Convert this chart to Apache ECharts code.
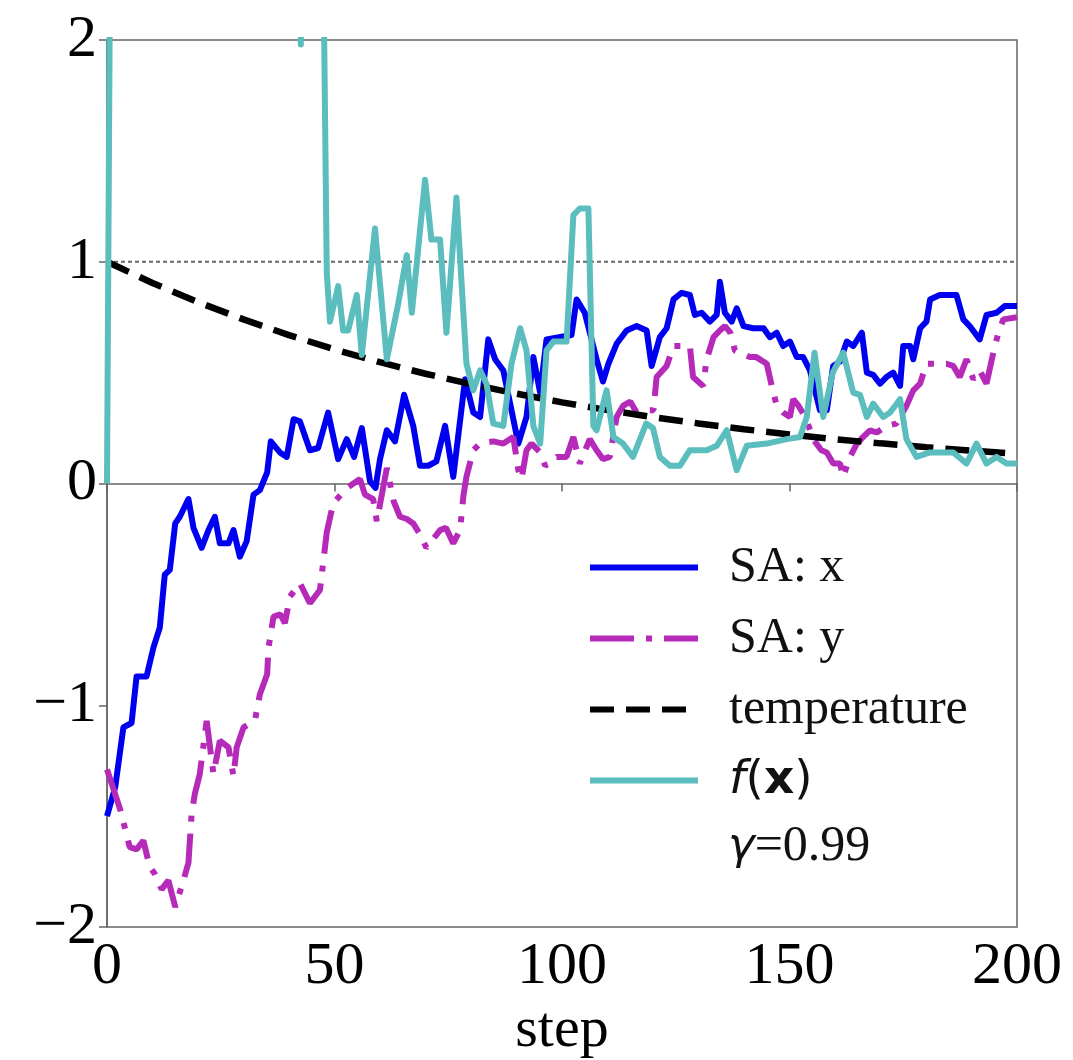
<!DOCTYPE html>
<html>
<head>
<meta charset="utf-8">
<script src="https://cdn.jsdelivr.net/npm/echarts@6/dist/echarts.min.js"></script>
<style>
html,body{margin:0;padding:0;background:#fff;}
#chart{width:1073px;height:1060px;}
</style>
</head>
<body>
<div id="chart"></div>
<script>
// ---- data: [step, value] ----
var seriesNames = ['SA: x', 'SA: y', 'temperature', 'f(x)'];
var xTicks = [0, 50, 100, 150, 200];
var yTicks = [-2, -1, 0, 1, 2];
var refLevel = [[0, 1], [200, 1]];

var saX = [[0,-1.50],[1.8,-1.37],[3.6,-1.10],[5.4,-1.08],[6.5,-0.87],[8.7,-0.87],[10.2,-0.74],[11.6,-0.65],
[12.7,-0.41],[13.8,-0.39],[15,-0.18],[16,-0.15],[17.9,-0.07],[19,-0.20],[20.8,-0.29],[22.3,-0.21],[23.7,-0.15],
[24.8,-0.27],[26.7,-0.27],[27.8,-0.21],[29.2,-0.33],[30.7,-0.26],[32.2,-0.05],[33.6,-0.03],[35.2,0.05],[36,0.19],
[38,0.14],[39.5,0.12],[41,0.29],[42.4,0.28],[44.6,0.15],[46.4,0.16],[48.6,0.32],[50.8,0.11],[52.7,0.20],[54.3,0.12],
[56,0.25],[57.8,0.01],[59,-0.02],[60,0.11],[61.5,0.24],[63.3,0.19],[65.3,0.40],[67.3,0.26],[68.8,0.08],[70.6,0.08],
[72.4,0.10],[74.3,0.26],[76.1,0.03],[78.7,0.47],[80.5,0.32],[82,0.30],[83.8,0.65],[85.3,0.56],[87.1,0.51],[88.6,0.36],
[90.4,0.18],[92.2,0.30],[93.7,0.57],[95.2,0.41],[96.6,0.65],[102.1,0.67],[103.2,0.83],[105,0.77],[107.6,0.56],[109,0.46],
[110.2,0.54],[112,0.63],[114.2,0.69],[116.4,0.71],[118.6,0.69],[119.7,0.53],[121.5,0.66],[123,0.70],[124.5,0.83],
[126.3,0.86],[128.1,0.85],[129.2,0.76],[130.7,0.77],[132.5,0.73],[134,0.76],[134.7,0.91],[135.8,0.77],[137.3,0.73],
[138.4,0.79],[139.9,0.71],[142,0.70],[144.3,0.70],[145.7,0.66],[147.2,0.68],[148.6,0.62],[150.1,0.64],[151.6,0.57],
[153,0.57],[154.5,0.51],[156.7,0.33],[158.2,0.33],[159.6,0.53],[161.1,0.55],[162.6,0.64],[164,0.62],[165.9,0.68],
[167,0.50],[168.4,0.49],[169.9,0.45],[171.3,0.48],[172.8,0.50],[174.3,0.44],[175,0.62],[176.5,0.62],[177.2,0.56],
[178.7,0.70],[180.1,0.73],[180.9,0.83],[183,0.85],[186.7,0.85],[188.2,0.74],[189.6,0.71],[191.8,0.65],[193.3,0.76],
[195.5,0.77],[197.3,0.80],[200,0.80]];

var saY = [[0,-1.29],[2.9,-1.47],[5,-1.64],[6.5,-1.65],[8,-1.61],[9.4,-1.73],[10.5,-1.76],[12,-1.83],[13.5,-1.79],
[15,-1.91],[16.8,-1.79],[17.9,-1.71],[18.6,-1.49],[19.3,-1.40],[20.4,-1.31],[21.9,-1.07],[23.4,-1.31],[24.8,-1.16],
[26.7,-1.19],[27.8,-1.32],[28.5,-1.19],[30,-1.10],[32.5,-1.07],[33.6,-0.95],[35.2,-0.86],[35.5,-0.74],[36.6,-0.60],
[38.1,-0.59],[39.1,-0.63],[40.2,-0.51],[42.4,-0.45],[44.6,-0.54],[46.8,-0.48],[48.3,-0.22],[49.7,-0.09],[52.7,-0.02],
[55.6,0.02],[56.7,-0.05],[58.5,-0.07],[59.3,-0.17],[61.5,0.07],[63,-0.08],[64.4,-0.15],[65.9,-0.16],[67.3,-0.18],
[68.8,-0.23],[70.2,-0.29],[73.2,-0.21],[74.5,-0.20],[76.1,-0.27],[77.6,-0.21],[78.3,-0.06],[79,0.03],[80.5,0.15],
[82,0.18],[84.9,0.19],[87.1,0.18],[89.3,0.21],[90.4,0.06],[91.1,0.02],[92.2,0.15],[93.3,0.18],[95.2,0.14],[96.3,0.08],
[98.8,0.12],[101,0.12],[102.5,0.21],[103.9,0.09],[106.1,0.20],[107.6,0.15],[109,0.11],[110.5,0.12],[112,0.30],
[113.4,0.35],[115,0.37],[116.4,0.32],[118.6,0.33],[120.1,0.33],[120.8,0.48],[123,0.53],[124.5,0.62],[128.1,0.62],
[128.8,0.48],[131,0.44],[131.8,0.56],[133.3,0.66],[134.7,0.69],[135.8,0.71],[137,0.68],[138,0.60],[139.1,0.59],
[141.3,0.57],[142.7,0.57],[145,0.54],[146.1,0.44],[147.2,0.35],[148.6,0.32],[150.1,0.30],[150.8,0.38],[152,0.35],
[153.7,0.29],[155.2,0.20],[157,0.15],[158.2,0.14],[159.6,0.09],[161.1,0.09],[161.8,0.03],[163.3,0.12],[164.8,0.18],
[166.2,0.21],[167.7,0.24],[169.2,0.23],[171.3,0.26],[173.5,0.27],[175.7,0.35],[177.2,0.42],[178.7,0.45],[180.1,0.54],
[181.6,0.54],[184.5,0.54],[186,0.53],[187.4,0.48],[188.9,0.56],[190.4,0.47],[191.8,0.51],[193.3,0.45],[194.8,0.59],
[195.9,0.68],[197,0.74],[200,0.75]];

var temperature = [[0,1.000],[10,0.904],[20,0.818],[30,0.740],[40,0.669],[50,0.605],[60,0.547],[70,0.495],[80,0.448],
[90,0.405],[100,0.366],[110,0.331],[120,0.299],[130,0.271],[140,0.245],[150,0.221],[160,0.200],[170,0.181],
[180,0.164],[190,0.148],[200,0.134]];

var fx = [[0,0.0],[1,3.5],[42,3.5],[42.6,1.98],[43.2,3.5],[47.2,3.0],[48.3,0.95],[49,0.73],[50.8,0.89],[51.9,0.69],
[53,0.69],[54.9,0.85],[56,0.58],[58.9,1.15],[61.5,0.56],[64,0.81],[65.9,1.03],[67,0.77],[69.9,1.37],[71.3,1.10],
[73.2,1.10],[74.6,0.68],[76.8,1.29],[79,0.54],[80.5,0.42],[82,0.51],[83.4,0.45],[84.9,0.27],[87.1,0.26],[88.9,0.54],
[90.8,0.70],[92.2,0.60],[93.7,0.26],[95.2,0.18],[96.6,0.60],[98.1,0.64],[101,0.64],[102.5,1.21],[103.9,1.24],
[105.8,1.24],[106.9,0.26],[107.6,0.24],[109.8,0.42],[111.3,0.21],[113.4,0.18],[115.6,0.12],[118.5,0.27],[120,0.25],
[121.5,0.12],[123.7,0.08],[125.9,0.08],[128.1,0.15],[131.8,0.15],[134,0.17],[136.2,0.24],[138.4,0.06],[140.6,0.17],
[145,0.18],[149.4,0.20],[152.3,0.21],[153.8,0.30],[155.5,0.59],[157.4,0.30],[159.5,0.50],[161.8,0.59],[164,0.41],
[165.5,0.40],[167,0.30],[168.4,0.36],[170.6,0.30],[172.1,0.32],[174.3,0.38],[175.7,0.20],[177.9,0.12],[180.9,0.14],
[186,0.14],[188.9,0.09],[191.1,0.18],[193.3,0.09],[195.5,0.12],[197.7,0.09],[200,0.09]];

var gammaLabel = ['γ', '=0.99'];

// ---- chart ----
var serif = '"Liberation Serif","DejaVu Serif",serif';
var chart = echarts.init(document.getElementById('chart'), null, {renderer: 'canvas'});
function minusFmt(v) { return v < 0 ? '\u2212' + Math.abs(v) : String(v); }

var option = {
  backgroundColor: '#ffffff',
  animation: false,
  grid: {left: 107, right: 56, top: 40, bottom: 133, show: true, borderColor: '#666', borderWidth: 1.5,
         containLabel: false, outerBoundsMode: 'none'},
  xAxis: {
    type: 'value', min: xTicks[0], max: xTicks[xTicks.length - 1], interval: 50,
    name: 'step', nameLocation: 'middle', nameGap: 70,
    nameTextStyle: {fontFamily: serif, fontSize: 58, color: '#000', lineHeight: 58},
    axisLine: {show: true, lineStyle: {color: '#666', width: 1.5}},
    axisTick: {show: true, inside: false, length: 8, lineStyle: {color: '#666', width: 1.5}},
    axisLabel: {fontFamily: serif, fontSize: 60, color: '#000', margin: 10, formatter: minusFmt},
    splitLine: {show: false}
  },
  yAxis: {
    type: 'value', min: yTicks[0], max: yTicks[yTicks.length - 1], interval: 1,
    axisLine: {show: true, lineStyle: {color: '#666', width: 1.5}},
    axisTick: {show: true, inside: false, length: 8, lineStyle: {color: '#666', width: 1.5}},
    axisLabel: {fontFamily: serif, fontSize: 60, color: '#000', margin: 10, formatter: minusFmt},
    splitLine: {show: false}
  },
  legend: {
    data: seriesNames,
    orient: 'vertical',
    left: 582, top: 534,
    itemWidth: 108, itemHeight: 14, itemGap: 14,
    itemStyle: {opacity: 0},
    lineStyle: {width: 6},
    textStyle: {fontFamily: serif, fontSize: 50, color: '#111', padding: [0, 0, 0, 26], lineHeight: 57,
      rich: {
        f: {fontFamily: '"DejaVu Sans"', fontStyle: 'italic', fontSize: 47, color: '#111'},
        p: {fontFamily: '"DejaVu Sans"', fontSize: 47, color: '#111'},
        b: {fontFamily: '"DejaVu Sans"', fontWeight: 'bold', fontSize: 47, color: '#111'}
      }
    },
    formatter: function (name) {
      if (name === 'f(x)') return '{f|f}{p|(}{b|x}{p|)}';
      return name;
    }
  },
  graphic: [{
    type: 'text', left: 728, top: 822,
    style: {
      text: '{g|' + gammaLabel[0] + '}{t|' + gammaLabel[1] + '}',
      rich: {
        g: {fontFamily: '"DejaVu Sans"', fontStyle: 'italic', fontSize: 45, fill: '#111'},
        t: {fontFamily: serif, fontSize: 50, fill: '#111'}
      }
    }
  }],
  series: [
    {name: 'ref', type: 'line', data: refLevel, symbol: 'none', silent: true, z: 1,
     lineStyle: {color: '#666', width: 1.8, type: [4, 3]}},
    {name: seriesNames[0], type: 'line', data: saX, symbol: 'none', z: 2, color: '#0000f0',
     lineStyle: {color: '#0000f0', width: 6, join: 'round'}},
    {name: seriesNames[1], type: 'line', data: saY, symbol: 'none', z: 3, color: '#b52ab8',
     lineStyle: {color: '#b52ab8', width: 6, type: [44, 12, 6, 12]}},
    {name: seriesNames[2], type: 'line', data: temperature, symbol: 'none', z: 4, color: '#000',
     lineStyle: {color: '#000', width: 6.5, type: [24, 12]}},
    {name: seriesNames[3], type: 'line', data: fx, symbol: 'none', z: 5, color: '#5bbdbd',
     lineStyle: {color: '#5bbdbd', width: 6, join: 'round'}}
  ]
};
chart.setOption(option);
</script>
</body>
</html>
